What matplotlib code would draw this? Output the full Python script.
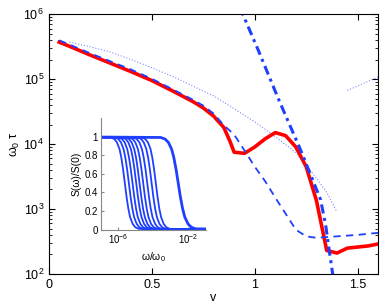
import numpy as np
import matplotlib
matplotlib.use("Agg")
import matplotlib.pyplot as plt

plt.rcParams['font.family'] = ['Liberation Sans', 'DejaVu Sans']
plt.rcParams['mathtext.fontset'] = 'custom'
plt.rcParams['mathtext.rm'] = 'Liberation Sans'
plt.rcParams['mathtext.it'] = 'Liberation Sans:italic'

BLUE = '#1f3fff'

# main curves: v vs omega_0 tau
v_red = [0.05, 0.1, 0.2, 0.3, 0.4, 0.5, 0.6, 0.7, 0.75, 0.8, 0.85, 0.88, 0.9, 0.95,
         1.0, 1.05, 1.1, 1.15, 1.2, 1.25, 1.3, 1.35, 1.4, 1.45, 1.5, 1.55, 1.6]
tau_red = [3.7e5, 3.2e5, 2.35e5, 1.75e5, 1.3e5, 9.5e4, 6.6e4, 4.5e4, 3.6e4, 2.7e4, 1.8e4,
           1.1e4, 7.5e3, 7.2e3, 9.0e3, 1.2e4, 1.5e4, 1.35e4, 9.0e3, 4.5e3, 1.35e3, 2.3e2,
           2.1e2, 2.5e2, 2.6e2, 2.7e2, 2.9e2]

v_dash = [0.05, 0.1, 0.2, 0.3, 0.4, 0.5, 0.6, 0.7, 0.75, 0.8, 0.85, 0.9, 0.95, 1.0,
          1.05, 1.1, 1.15, 1.2, 1.25, 1.3, 1.35, 1.4, 1.5, 1.6]
tau_dash = [3.95e5, 3.4e5, 2.5e5, 1.87e5, 1.4e5, 1.01e5, 7.0e4, 4.8e4, 3.9e4, 2.95e4, 1.95e4,
            1.4e4, 8.0e3, 4.5e3, 2.7e3, 1.5e3, 8.5e2, 4.8e2, 3.8e2, 3.6e2, 3.7e2, 3.8e2,
            4.0e2, 4.3e2]

v_dot = [0.1, 0.2, 0.3, 0.4, 0.5, 0.6, 0.7, 0.8, 0.9, 1.0, 1.1, 1.2, 1.3, 1.35, 1.4]
tau_dot = [3.7e5, 3.15e5, 2.6e5, 2.0e5, 1.5e5, 1.1e5, 7.8e4, 5.5e4, 3.5e4, 2.2e4, 1.3e4,
           7.4e3, 3.0e3, 1.8e3, 9.0e2]
v_dot2 = [1.45, 1.5, 1.55, 1.6]
tau_dot2 = [6.7e4, 7.8e4, 9.2e4, 1.08e5]

v_dd = [0.93, 0.942, 1.017, 1.117, 1.223, 1.32, 1.345, 1.362, 1.379, 1.385]
tau_dd = [1.3e6, 1.0e6, 2.8e5, 4.8e4, 8.1e3, 1.4e3, 5.6e2, 2.3e2, 1.0e2, 8.0e1]

# inset: spectra S(w)/S(0), half-point positions (log10 w/w0) and profile shape
centers = [-5.63, -5.40, -5.19, -4.98, -4.79, -4.58, -4.35, -4.10, -3.86]
center_right = -2.58
prof_d = [-5, -0.8, -0.6, -0.45, -0.3, -0.2, -0.1, 0, 0.1, 0.2, 0.3, 0.45, 0.6, 0.8, 5]
prof_s = [1, 0.993, 0.976, 0.94, 0.866, 0.775, 0.65, 0.5, 0.35, 0.225, 0.134, 0.06,
          0.024, 0.007, 0]

fig = plt.figure(figsize=(3.82, 3.07), dpi=100)
ax = fig.add_axes([0.128, 0.1075, 0.862, 0.8465])

ax.plot(v_dot, tau_dot, ':', color=BLUE, lw=0.8, alpha=0.6)
ax.plot(v_dot2, tau_dot2, ':', color=BLUE, lw=0.8, alpha=0.6)
ax.plot(v_red, tau_red, '-', color='red', lw=2.6)
ax.plot(v_dash, tau_dash, '--', color=BLUE, lw=1.3, dashes=(4, 3))
ax.plot(v_dd, tau_dd, '-.', color=BLUE, lw=2.2, dashes=(3, 1.5, 1, 1.5))

ax.set_yscale('log')
ax.set_xlim(0, 1.6)
ax.set_ylim(1e2, 1e6)
ax.set_xticks([0, 0.5, 1, 1.5])
ax.set_xticklabels(['0', '0.5', '1', '1.5'])
ax.tick_params(which='both', direction='in', top=True, right=True, labelsize=9)
ax.tick_params(which='major', length=4)
ax.tick_params(which='minor', length=2)
ax.set_xlabel('v', fontsize=9, labelpad=1)
ax.set_ylabel(r'$\mathregular{\omega_0\ \tau}$', fontsize=9, labelpad=1)

ins = fig.add_axes([0.264, 0.2524, 0.275, 0.3623])
prof_d = np.array(prof_d)
for c in centers:
    ins.plot(10 ** (c + prof_d), prof_s, color=BLUE, lw=1.3)
ins.plot(10 ** (center_right + 1.25 * prof_d), prof_s, color=BLUE, lw=2.0)
ins.set_xscale('log')
ins.set_xlim(1e-7, 1e-1)
ins.set_ylim(0, 1.2)
ins.set_xticks([1e-6, 1e-2])
ins.xaxis.set_minor_locator(matplotlib.ticker.NullLocator())
ins.set_yticks([0, 0.2, 0.4, 0.6, 0.8, 1])
ins.set_yticklabels(['0', '0.2', '0.4', '0.6', '0.8', '1'])
ins.patch.set_alpha(0)
for s in ['top', 'right']:
    ins.spines[s].set_visible(False)
for s in ['left', 'bottom']:
    ins.spines[s].set_color('#888888')
    ins.spines[s].set_linewidth(0.8)
ins.tick_params(direction='in', labelsize=7, color='#888888', length=2, pad=2)
ins.set_xlabel(r'$\mathregular{\omega/\omega_0}$', fontsize=7.5, labelpad=3)
ins.set_ylabel('S(ω)/S(0)', fontsize=7.5, labelpad=2)

fig.savefig('out.png', dpi=100)
